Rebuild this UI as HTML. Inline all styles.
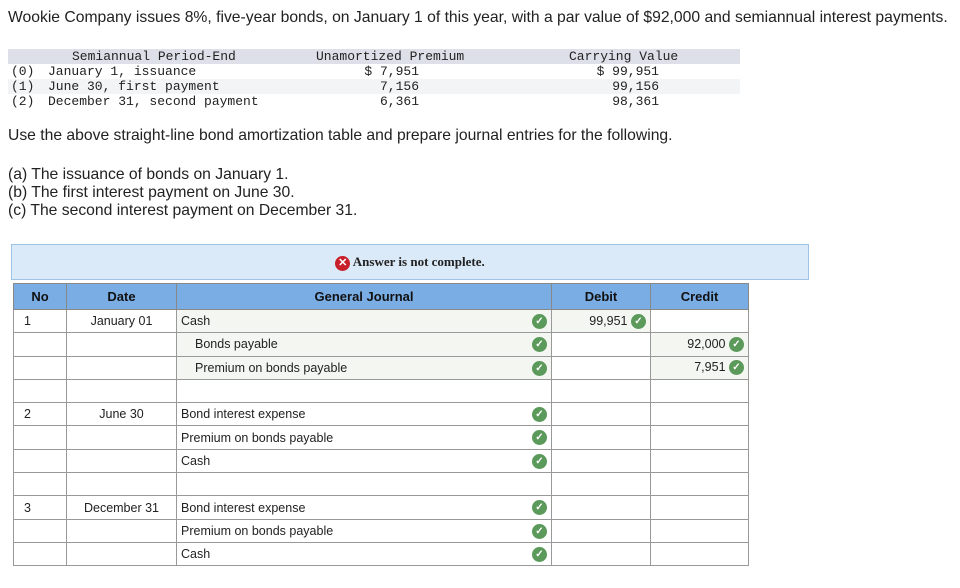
<!DOCTYPE html>
<html><head><meta charset="utf-8"><style>
body{margin:0;width:960px;height:588px;background:#fff;font-family:"Liberation Sans",Arial,sans-serif;color:#222;position:relative;overflow:hidden}
.abs{position:absolute;white-space:nowrap}
.p{font-size:15.7px}
.mono{font-family:"Liberation Mono","DejaVu Sans Mono",monospace;font-size:13px;color:#222}
table.j{position:absolute;left:13px;top:283px;border-collapse:collapse;font-size:12.5px;table-layout:fixed;width:735px}
table.j td{border:1px solid #999;height:22.3px;padding:0 4px;position:relative;overflow:hidden}
table.j th{background:#7aade4;border:1px solid #888;height:23px;font-size:13px;font-weight:bold;color:#111}
.f{background:#f4f6f2}
.ck{display:inline-block;width:15px;height:15px;border-radius:50%;background:#5b9a5b;color:#fff;font-size:10px;line-height:15px;text-align:center;font-weight:bold;vertical-align:middle}
.r{text-align:right}
.gj .ck{position:absolute;right:4px;top:4px}
</style></head><body>
<div class="abs p" style="left:8px;top:9px">Wookie Company issues 8%, five-year bonds, on January 1 of this year, with a par value of $92,000 and semiannual interest payments.</div>

<div class="abs" style="left:8px;top:49px;width:732px;height:15px;background:#dde0e8"></div>
<div class="abs" style="left:8px;top:79px;width:732px;height:15px;background:#f3f4f6"></div>
<div class="abs mono" style="left:72px;top:49px">Semiannual Period-End</div>
<div class="abs mono" style="left:316px;top:49px">Unamortized Premium</div>
<div class="abs mono" style="left:569px;top:49px">Carrying Value</div>
<div class="abs mono" style="left:11px;top:64px;line-height:15px">(0)<br>(1)<br>(2)</div>
<div class="abs mono" style="left:48px;top:64px;line-height:15px">January 1, issuance<br>June 30, first payment<br>December 31, second payment</div>
<div class="abs mono" style="left:300px;width:119px;text-align:right;top:64px;line-height:15px">$ 7,951<br>7,156<br>6,361</div>
<div class="abs mono" style="left:540px;width:119px;text-align:right;top:64px;line-height:15px">$ 99,951<br>99,156<br>98,361</div>

<div class="abs p" style="left:8px;top:127px">Use the above straight-line bond amortization table and prepare journal entries for the following.</div>
<div class="abs p" style="left:8px;top:166px;line-height:18px">(a) The issuance of bonds on January 1.<br>(b) The first interest payment on June 30.<br>(c) The second interest payment on December 31.</div>

<div class="abs" style="left:11px;top:244px;width:796px;height:34px;background:#dbeaf8;border:1px solid #9fc3e6;text-align:center;line-height:34px;font-family:'Liberation Serif',serif;font-weight:bold;font-size:13px"><span style="display:inline-block;width:15px;height:15px;border-radius:50%;background:#c8202b;color:#fff;font-family:Arial;font-size:11px;line-height:15px;vertical-align:middle">✕</span> Answer is not complete.</div>

<table class="j">
<colgroup><col style="width:53px"><col style="width:110px"><col style="width:375px"><col style="width:99px"><col style="width:98px"></colgroup>
<tr><th>No</th><th>Date</th><th>General Journal</th><th>Debit</th><th>Credit</th></tr>
<tr><td style="padding-left:10px">1</td><td style="text-align:center">January 01</td><td class="f gj">Cash<span class="ck">✓</span></td><td class="f r">99,951 <span class="ck">✓</span></td><td></td></tr>
<tr><td></td><td></td><td class="f gj" style="padding-left:18px">Bonds payable<span class="ck">✓</span></td><td></td><td class="f r">92,000 <span class="ck">✓</span></td></tr>
<tr><td></td><td></td><td class="f gj" style="padding-left:18px">Premium on bonds payable<span class="ck">✓</span></td><td></td><td class="f r">7,951 <span class="ck">✓</span></td></tr>
<tr><td></td><td></td><td></td><td></td><td></td></tr>
<tr><td style="padding-left:10px">2</td><td style="text-align:center">June 30</td><td class="gj">Bond interest expense<span class="ck">✓</span></td><td></td><td></td></tr>
<tr><td></td><td></td><td class="gj">Premium on bonds payable<span class="ck">✓</span></td><td></td><td></td></tr>
<tr><td></td><td></td><td class="gj">Cash<span class="ck">✓</span></td><td></td><td></td></tr>
<tr><td></td><td></td><td></td><td></td><td></td></tr>
<tr><td style="padding-left:10px">3</td><td style="text-align:center">December 31</td><td class="gj">Bond interest expense<span class="ck">✓</span></td><td></td><td></td></tr>
<tr><td></td><td></td><td class="gj">Premium on bonds payable<span class="ck">✓</span></td><td></td><td></td></tr>
<tr><td></td><td></td><td class="gj">Cash<span class="ck">✓</span></td><td></td><td></td></tr>
</table>
</body></html>
